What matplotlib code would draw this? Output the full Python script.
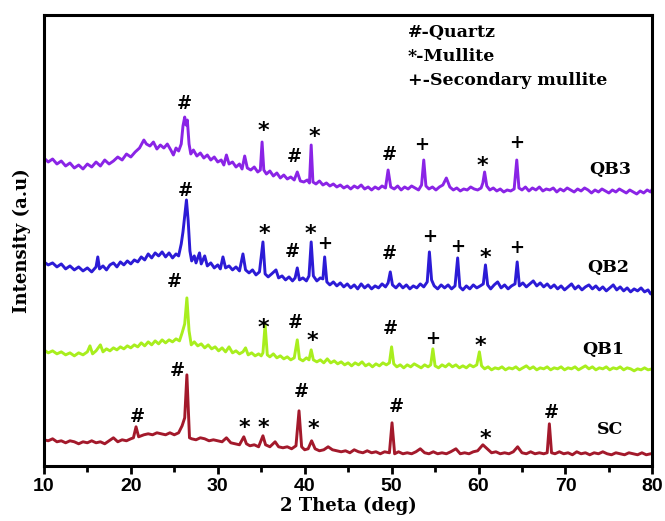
import matplotlib
matplotlib.use("Agg")
import matplotlib.pyplot as plt

# ---- XRD patterns (2theta in degrees, stacked intensity in a.u.) ----
qb3_2theta = [10.0, 10.5, 11.0, 11.5, 12.0, 12.5, 13.0, 13.5, 14.0, 14.5, 15.0, 15.5, 16.0, 16.5, 17.0,
              17.5, 18.0, 18.5, 19.0, 19.5, 20.0, 20.5, 21.0, 21.5, 21.8, 22.2, 22.6, 23.0, 23.4, 23.8,
              24.2, 24.6, 24.9, 25.2, 25.5, 25.8, 26.0, 26.2, 26.35, 26.5, 26.7, 26.9, 27.2, 27.6, 28.0,
              28.4, 28.8, 29.2, 29.6, 30.0, 30.4, 30.7, 31.0, 31.3, 31.7, 32.1, 32.5, 32.8, 33.1, 33.4,
              33.8, 34.2, 34.6, 34.9, 35.1, 35.3, 35.6, 36.0, 36.4, 36.8, 37.2, 37.6, 38.0, 38.4, 38.8,
              39.15, 39.5, 39.9, 40.3, 40.55, 40.75, 40.95, 41.3, 41.7, 42.1, 42.5, 42.9, 43.3, 43.7, 44.1,
              44.5, 44.9, 45.3, 45.7, 46.1, 46.5, 46.9, 47.3, 47.7, 48.1, 48.5, 48.9, 49.3, 49.6, 49.9,
              50.3, 50.7, 51.1, 51.5, 51.9, 52.3, 52.7, 53.1, 53.45, 53.7, 53.95, 54.3, 54.7, 55.1, 55.5,
              55.9, 56.3, 56.7, 57.1, 57.5, 57.9, 58.3, 58.7, 59.1, 59.5, 59.9, 60.3, 60.5, 60.7, 60.95,
              61.3, 61.7, 62.1, 62.5, 62.9, 63.3, 63.7, 64.1, 64.4, 64.65, 65.0, 65.4, 65.8, 66.2, 66.6,
              67.0, 67.4, 67.8, 68.2, 68.6, 69.0, 69.4, 69.8, 70.2, 70.6, 71.0, 71.4, 71.8, 72.2, 72.6,
              73.0, 73.4, 73.8, 74.2, 74.6, 75.0, 75.4, 75.8, 76.2, 76.6, 77.0, 77.4, 77.8, 78.2, 78.6,
              79.0, 79.4, 79.8, 80.0]
qb3_counts = [308, 304, 307, 302, 305, 300, 303, 298, 301, 297, 302, 299, 304, 300, 306,
              302, 305, 309, 306, 312, 309, 314, 318, 326, 322, 320, 324, 317, 321, 318,
              322, 316, 311, 318, 315, 322, 340, 349, 341, 346, 322, 312, 316, 310, 313,
              308, 311, 306, 309, 304, 306, 301, 311, 302, 304, 299, 302, 297, 310, 298,
              296, 299, 294, 296, 324, 296, 292, 295, 290, 293, 288, 291, 287, 289, 286,
              294, 285, 284, 286, 283, 321, 284, 282, 285, 281, 283, 280, 282, 279, 281,
              278, 280, 277, 280, 278, 281, 277, 279, 276, 279, 277, 280, 278, 296, 279,
              277, 280, 276, 279, 277, 280, 278, 276, 281, 306, 280, 277, 279, 276, 279,
              281, 288, 279, 276, 278, 275, 277, 276, 279, 277, 276, 278, 283, 294, 280,
              276, 278, 275, 277, 274, 276, 275, 277, 306, 278, 276, 279, 275, 278, 276,
              279, 275, 277, 276, 278, 274, 277, 275, 278, 276, 274, 277, 275, 278, 276,
              273, 276, 274, 277, 275, 273, 276, 274, 277, 275, 273, 276, 274, 272, 275,
              273, 276, 274, 277]

qb2_2theta = [10.0, 10.5, 11.0, 11.5, 12.0, 12.5, 13.0, 13.5, 14.0, 14.5, 15.0, 15.5, 16.0, 16.2, 16.4,
              16.8, 17.2, 17.6, 18.0, 18.4, 18.8, 19.2, 19.6, 20.0, 20.4, 20.8, 21.2, 21.6, 22.0, 22.4,
              22.8, 23.2, 23.6, 24.0, 24.4, 24.8, 25.2, 25.5, 25.8, 26.0, 26.2, 26.4, 26.6, 26.8, 27.0,
              27.3, 27.5, 27.9, 28.1, 28.5, 28.8, 29.2, 29.6, 30.0, 30.3, 30.6, 30.9, 31.3, 31.7, 32.1,
              32.5, 32.9, 33.2, 33.6, 34.0, 34.4, 34.8, 35.2, 35.45, 35.8, 36.2, 36.7, 37.0, 37.4, 37.8,
              38.2, 38.6, 38.9, 39.15, 39.4, 39.8, 40.2, 40.5, 40.75, 41.0, 41.4, 41.8, 42.1, 42.3, 42.55,
              42.9, 43.3, 43.7, 44.1, 44.5, 44.9, 45.3, 45.7, 46.1, 46.5, 46.9, 47.3, 47.7, 48.1, 48.5,
              48.9, 49.3, 49.6, 49.85, 50.1, 50.5, 50.9, 51.3, 51.7, 52.1, 52.5, 52.9, 53.3, 53.7, 54.1,
              54.35, 54.6, 54.9, 55.3, 55.7, 56.1, 56.5, 56.9, 57.3, 57.6, 57.85, 58.2, 58.6, 59.0, 59.4,
              59.8, 60.2, 60.55, 60.8, 61.05, 61.4, 61.8, 62.2, 62.6, 63.0, 63.4, 63.8, 64.2, 64.45, 64.7,
              65.1, 65.5, 65.9, 66.3, 66.7, 67.1, 67.5, 67.9, 68.3, 68.7, 69.1, 69.5, 69.9, 70.3, 70.7,
              71.1, 71.5, 71.9, 72.3, 72.7, 73.1, 73.5, 73.9, 74.3, 74.7, 75.1, 75.5, 75.9, 76.3, 76.7,
              77.1, 77.5, 77.9, 78.3, 78.7, 79.1, 79.5, 79.8, 80.0]
qb2_counts = [204, 201, 203, 199, 202, 197, 200, 196, 199, 195, 198, 194, 199, 209, 197,
              200, 196, 201, 203, 199, 204, 201, 205, 202, 206, 204, 209, 206, 212, 208,
              213, 210, 214, 209, 213, 208, 212, 210, 222, 234, 250, 266, 245, 215, 205,
              210, 203, 213, 202, 210, 200, 203, 198, 201, 197, 209, 198, 200, 196, 199,
              195, 212, 196, 193, 196, 191, 194, 224, 192, 189, 192, 196, 188, 190, 186,
              189, 185, 188, 198, 186, 188, 185, 190, 224, 190, 185, 188, 187, 209, 184,
              181, 184, 180, 183, 179, 182, 178, 181, 177, 182, 178, 181, 177, 180, 178,
              182, 179, 183, 194, 181, 178, 182, 178, 181, 177, 180, 178, 182, 179, 184,
              214, 186, 180, 177, 181, 178, 181, 177, 180, 208, 179, 176, 180, 177, 181,
              178, 180, 182, 201, 181, 177, 181, 184, 178, 181, 177, 180, 182, 204, 180,
              183, 179, 182, 185, 180, 183, 179, 182, 178, 181, 177, 180, 176, 179, 182,
              177, 180, 176, 179, 181, 177, 180, 176, 179, 175, 178, 181, 176, 179, 175,
              178, 174, 177, 175, 178, 174, 176, 172, 174]

qb1_2theta = [10.0, 10.5, 11.0, 11.5, 12.0, 12.5, 13.0, 13.5, 14.0, 14.5, 15.0, 15.3, 15.6, 16.0, 16.5,
              16.8, 17.2, 17.6, 18.0, 18.4, 18.8, 19.2, 19.6, 20.0, 20.4, 20.8, 21.2, 21.6, 22.0, 22.4,
              22.8, 23.2, 23.6, 24.0, 24.4, 24.8, 25.2, 25.6, 25.9, 26.2, 26.45, 26.7, 26.95, 27.3, 27.7,
              28.1, 28.5, 28.9, 29.3, 29.7, 30.1, 30.5, 30.9, 31.3, 31.7, 32.1, 32.5, 32.9, 33.2, 33.5,
              33.9, 34.3, 34.7, 35.0, 35.2, 35.45, 35.7, 36.0, 36.4, 36.8, 37.2, 37.6, 38.0, 38.4, 38.8,
              39.15, 39.4, 39.8, 40.2, 40.5, 40.75, 41.0, 41.4, 41.8, 42.2, 42.6, 43.0, 43.4, 43.8, 44.2,
              44.6, 45.0, 45.4, 45.8, 46.2, 46.6, 47.0, 47.4, 47.8, 48.2, 48.6, 49.0, 49.4, 49.75, 50.0,
              50.25, 50.6, 51.0, 51.4, 51.8, 52.2, 52.6, 53.0, 53.4, 53.8, 54.2, 54.5, 54.75, 55.0, 55.4,
              55.8, 56.2, 56.6, 57.0, 57.4, 57.8, 58.2, 58.6, 59.0, 59.4, 59.8, 60.1, 60.35, 60.7, 61.1,
              61.5, 61.9, 62.3, 62.7, 63.1, 63.5, 63.9, 64.3, 64.7, 65.1, 65.5, 65.9, 66.3, 66.7, 67.1,
              67.5, 67.9, 68.3, 68.7, 69.1, 69.5, 69.9, 70.3, 70.7, 71.1, 71.5, 71.9, 72.3, 72.7, 73.1,
              73.5, 73.9, 74.3, 74.7, 75.1, 75.5, 75.9, 76.3, 76.7, 77.1, 77.5, 77.9, 78.3, 78.7, 79.1,
              79.5, 80.0]
qb1_counts = [116, 113, 115, 112, 114, 111, 113, 110, 113, 111, 114, 120, 112, 115, 121,
              114, 117, 115, 118, 116, 119, 117, 120, 118, 121, 119, 123, 120, 124, 121,
              125, 122, 126, 123, 126, 124, 127, 125, 133, 142, 168, 135, 121, 124, 120,
              122, 118, 121, 117, 119, 115, 118, 114, 119, 113, 115, 112, 114, 118, 111,
              113, 110, 112, 110, 113, 141, 111, 109, 112, 108, 110, 107, 109, 106, 108,
              126, 107, 105, 108, 106, 116, 106, 104, 106, 103, 107, 103, 105, 102, 104,
              101, 103, 100, 103, 101, 104, 100, 102, 99, 102, 100, 103, 101, 103, 119,
              102, 99, 101, 98, 101, 99, 102, 100, 98, 101, 99, 101, 117, 100, 98,
              101, 99, 102, 99, 101, 98, 100, 98, 101, 99, 101, 114, 100, 97, 99,
              96, 98, 97, 99, 96, 98, 97, 99, 96, 98, 100, 97, 99, 96, 98,
              97, 99, 96, 98, 97, 99, 96, 98, 97, 99, 96, 98, 100, 97, 99,
              96, 98, 97, 99, 96, 98, 97, 99, 96, 98, 97, 95, 97, 96, 98,
              96, 97]

sc_2theta = [10.0, 10.5, 11.0, 11.5, 12.0, 12.5, 13.0, 13.5, 14.0, 14.5, 15.0, 15.5, 16.0, 16.5, 17.0,
             17.5, 18.0, 18.5, 19.0, 19.5, 20.0, 20.3, 20.6, 20.9, 21.2, 21.5, 22.0, 22.5, 23.0, 23.5,
             24.0, 24.5, 25.0, 25.5, 25.9, 26.2, 26.45, 26.75, 27.0, 27.5, 28.0, 28.5, 29.0, 29.5, 30.0,
             30.5, 31.0, 31.5, 32.0, 32.5, 33.0, 33.3, 33.7, 34.2, 34.7, 35.2, 35.5, 36.0, 36.6, 37.0,
             37.5, 38.0, 38.5, 39.0, 39.35, 39.65, 40.0, 40.4, 40.8, 41.2, 41.7, 42.2, 42.7, 43.2, 43.7,
             44.2, 44.7, 45.2, 45.7, 46.2, 46.7, 47.2, 47.7, 48.2, 48.7, 49.2, 49.75, 50.05, 50.35, 50.8,
             51.3, 51.8, 52.3, 52.8, 53.3, 53.8, 54.3, 54.8, 55.3, 55.8, 56.3, 56.8, 57.4, 57.9, 58.4,
             58.9, 59.4, 59.9, 60.5, 61.0, 61.5, 62.0, 62.5, 63.0, 63.5, 64.0, 64.5, 65.0, 65.5, 66.0,
             66.5, 67.0, 67.5, 67.9, 68.15, 68.4, 68.8, 69.3, 69.8, 70.3, 70.8, 71.3, 71.8, 72.3, 72.8,
             73.3, 73.8, 74.3, 74.8, 75.3, 75.8, 76.3, 76.8, 77.3, 77.8, 78.3, 78.8, 79.3, 79.8, 80.0]
sc_counts = [26, 25, 27, 24, 25, 23, 25, 24, 22, 24, 23, 25, 23, 24, 22,
             25, 28, 24, 26, 25, 27, 28, 39, 29, 30, 31, 32, 31, 33, 32,
             31, 33, 31, 33, 40, 48, 91, 28, 27, 26, 28, 27, 25, 26, 25,
             24, 28, 23, 22, 21, 29, 22, 20, 21, 19, 30, 21, 19, 24, 19,
             18, 19, 17, 20, 55, 19, 16, 17, 25, 17, 15, 16, 19, 16, 15,
             14, 15, 13, 16, 14, 13, 15, 13, 14, 12, 14, 13, 43, 12, 14,
             12, 13, 12, 14, 17, 13, 12, 14, 12, 13, 12, 14, 17, 12, 13,
             12, 14, 15, 21, 17, 13, 14, 12, 13, 12, 14, 19, 13, 12, 14,
             12, 13, 12, 13, 42, 13, 12, 14, 12, 13, 11, 14, 12, 13, 11,
             13, 12, 14, 12, 11, 13, 12, 11, 13, 12, 11, 13, 11, 12, 12]

sample_names = ["QB3", "QB2", "QB1", "SC"]
sample_colors = ["#8A24E6", "#2C1BD6", "#A8EE1E", "#A3192B"]
sample_label_pos = [(75.1, 296), (74.9, 198), (74.3, 116), (75.1, 36)]

# phase markers: (symbol, 2theta, height)
qb3_marks = [("#", 26.2, 362), ("*", 35.2, 341), ("#", 38.8, 309), ("*", 41.1, 335),
             ("#", 49.7, 311), ("+", 53.4, 321), ("*", 60.4, 306), ("+", 64.4, 323)]
qb2_marks = [("#", 26.3, 275), ("*", 35.4, 238), ("#", 38.6, 214), ("*", 40.7, 238),
             ("+", 42.3, 222), ("#", 49.7, 212), ("+", 54.4, 229), ("+", 57.6, 219),
             ("*", 60.8, 214), ("+", 64.4, 218)]
qb1_marks = [("#", 25.0, 184), ("*", 35.3, 144), ("#", 38.9, 143), ("*", 40.9, 131),
             ("#", 49.9, 137), ("+", 54.7, 127), ("*", 60.2, 126)]
sc_marks = [("#", 20.7, 49), ("#", 25.3, 95), ("*", 33.1, 44), ("*", 35.2, 44),
            ("#", 39.6, 74), ("*", 41.0, 43), ("#", 50.6, 59), ("*", 60.8, 33), ("#", 68.4, 53)]

phase_key = ["#-Quartz", "*-Mullite", "+-Secondary mullite"]
x_ticks = [10, 20, 30, 40, 50, 60, 70, 80]

SERIF = "DejaVu Serif"
SANS = "Liberation Sans"

fig = plt.figure(figsize=(6.65, 5.21), dpi=100)
ax = fig.add_axes([0.066, 0.106, 0.915, 0.865])

patterns = [(qb3_2theta, qb3_counts), (qb2_2theta, qb2_counts),
            (qb1_2theta, qb1_counts), (sc_2theta, sc_counts)]
for (tt, cts), col in zip(patterns, sample_colors):
    ax.plot(tt, cts, color=col, lw=2.1, solid_joinstyle="round")

for name, (lx, ly) in zip(sample_names, sample_label_pos):
    ax.text(lx, ly, name, ha="center", va="center", fontsize=12.5,
            fontweight="bold", family=SERIF)

for marks in (qb3_marks, qb2_marks, qb1_marks, sc_marks):
    for sym, tt, h in marks:
        if sym == "*":
            ax.text(tt, h - 6, sym, ha="center", va="center", fontsize=16,
                    fontweight="bold", family="DejaVu Sans")
        else:
            ax.text(tt, h, sym, ha="center", va="center", fontsize=13,
                    fontweight="bold", family=SERIF)

for i, line in enumerate(phase_key):
    ax.text(51.9, 434 - 24 * i, line, ha="left", va="center", fontsize=12.5,
            fontweight="bold", family=SERIF)

ax.set_xlim(10, 80)
ax.set_ylim(0, 451)
ax.set_xticks(x_ticks)
ax.set_xticks([15, 25, 35, 45, 55, 65, 75], minor=True)
ax.set_xticklabels([str(t) for t in x_ticks], fontsize=14, fontweight="bold", family=SANS)
ax.set_yticks([])
ax.tick_params(axis="x", which="major", direction="out", length=6, width=2, pad=3)
ax.tick_params(axis="x", which="minor", direction="out", length=4, width=2)
for sp in ax.spines.values():
    sp.set_linewidth(2.2)

ax.set_xlabel("2 Theta (deg)", fontsize=13, fontweight="bold", family=SERIF, labelpad=1)
ax.set_ylabel("Intensity (a.u)", fontsize=13, fontweight="bold", family=SERIF, labelpad=9)

fig.savefig("out.png", dpi=100)
